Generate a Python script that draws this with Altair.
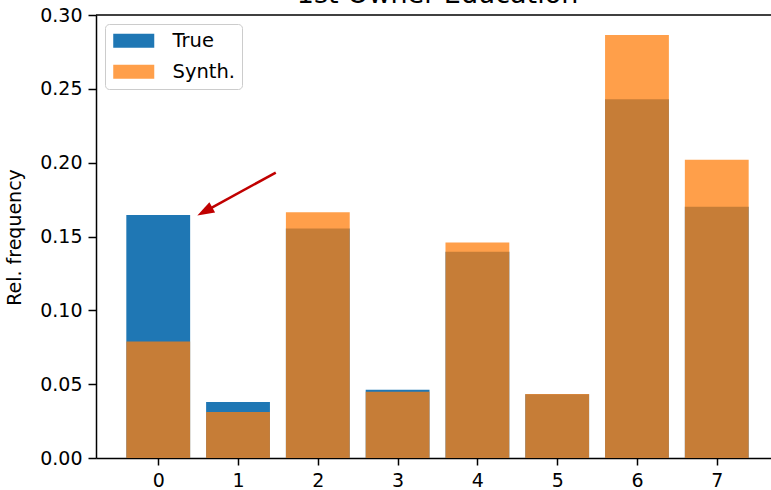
import math

import altair as alt
import pandas as pd

# ---- data -------------------------------------------------------------
categories = [0, 1, 2, 3, 4, 5, 6, 7]
true_freq = [0.1646, 0.0379, 0.1554, 0.0462, 0.1396, 0.0432, 0.2429, 0.1701]
synth_freq = [0.0789, 0.0311, 0.1665, 0.0449, 0.1459, 0.0434, 0.2864, 0.2019]
series_names = ["True", "Synth."]
y_ticks = [0.0, 0.05, 0.10, 0.15, 0.20, 0.25, 0.30]

title_text = "1st Owner Education"
y_title = "Rel. frequency"

# annotation arrow (data coordinates): from tail to tip at the top of bar 0
arrow_tail = (1.473, 0.1933)
arrow_tip = (0.49, 0.1642)

# ---- layout / style ---------------------------------------------------
FONT = "DejaVu Sans"
PAD_LEFT, PAD_TOP, PAD_BOTTOM = 96, 15, 32
VIEW_W, VIEW_H = 771 - PAD_LEFT, 443
X_DOMAIN = [-0.78, 7.78]
X_RANGE = [0, 683]          # axes run past the right edge of the figure
Y_DOMAIN = [0.0, 0.30]
BAR_HALF = 0.4
BLUE, ORANGE, ARROW_RED = "#1f77b4", "#ff7f0e", "#c00000"

rows = [{"cat": c, "series": "True", "freq": v} for c, v in zip(categories, true_freq)]
rows += [{"cat": c, "series": "Synth.", "freq": v} for c, v in zip(categories, synth_freq)]
bars_df = pd.DataFrame(rows)  # True rows first, so Synth. is painted over them

x_scale = alt.Scale(domain=X_DOMAIN, range=X_RANGE, nice=False, zero=False)
y_scale = alt.Scale(domain=Y_DOMAIN, nice=False, zero=False)

axis_common = dict(
    domainColor="black", domainWidth=1.5, tickColor="black", tickWidth=1.5,
    labelFont=FONT, labelFontSize=19, labelColor="black", grid=False,
    labelOverlap=False, labelFlush=False, labelBound=False,
)

legend_symbol = "M-2.93,-1L2.93,-1L2.93,1L-2.93,1Z"

bars = (
    alt.Chart(bars_df)
    .transform_calculate(x0=f"datum.cat - {BAR_HALF}", x1=f"datum.cat + {BAR_HALF}")
    .mark_bar(strokeWidth=0)
    .encode(
        x=alt.X("x0:Q", scale=x_scale,
                axis=alt.Axis(values=categories, format="d", title=None,
                              tickSize=7, labelPadding=6, **axis_common)),
        x2="x1:Q",
        y=alt.Y("freq:Q", scale=y_scale,
                axis=alt.Axis(values=y_ticks, format=".2f", title=y_title,
                              tickSize=8, labelPadding=6,
                              titleFont=FONT, titleFontSize=19, titleFontWeight="normal",
                              titleColor="black", titleAngle=270,
                              titleBaseline="alphabetic", titleAlign="center",
                              titleX=-75.8, titleY=VIEW_H / 2 + 0.5,
                              **axis_common)),
        y2=alt.datum(0),
        color=alt.Color("series:N",
                        scale=alt.Scale(domain=series_names, range=[BLUE, ORANGE]),
                        legend=alt.Legend(
                            title=None, orient="none", legendX=9, legendY=9,
                            fillColor="white", strokeColor="#cccccc",
                            cornerRadius=4, padding=7, rowPadding=10,
                            symbolType=legend_symbol, symbolSize=196,
                            symbolStrokeWidth=0, symbolOffset=12, labelOffset=29,
                            labelFont=FONT, labelFontSize=19.5, labelColor="black",
                        )),
        opacity=alt.Opacity("series:N",
                            scale=alt.Scale(domain=series_names, range=[1.0, 0.75])),
    )
)

# top spine
top_spine = (
    alt.Chart(alt.Data(values=[{}]))
    .mark_rule(color="black", strokeWidth=1.5)
    .encode(x=alt.value(X_RANGE[0]), x2=alt.value(X_RANGE[1]), y=alt.value(0))
)

# title, sitting just above the frame
title = (
    alt.Chart(alt.Data(values=[{"t": title_text}]))
    .mark_text(font=FONT, fontSize=27, color="black", align="center", baseline="alphabetic")
    .encode(text="t:N", x=alt.value((X_RANGE[0] + X_RANGE[1]) / 2), y=alt.value(-11.7))
)

# arrow: shaft + filled head
px_x = (X_RANGE[1] - X_RANGE[0]) / (X_DOMAIN[1] - X_DOMAIN[0])
px_y = VIEW_H / (Y_DOMAIN[1] - Y_DOMAIN[0])
dx_px = (arrow_tip[0] - arrow_tail[0]) * px_x
dy_px = -(arrow_tip[1] - arrow_tail[1]) * px_y
length = math.hypot(dx_px, dy_px)
ux, uy = dx_px / length, dy_px / length
HEAD_LEN = 17.0
head_angle = (math.degrees(math.atan2(uy, ux)) + 90) % 360
base_x = arrow_tip[0] - ux * (HEAD_LEN - 2) / px_x
base_y = arrow_tip[1] + uy * (HEAD_LEN - 2) / px_y

shaft = (
    alt.Chart(alt.Data(values=[
        {"o": 0, "x": arrow_tail[0], "y": arrow_tail[1]},
        {"o": 1, "x": base_x, "y": base_y},
    ]))
    .mark_line(color=ARROW_RED, strokeWidth=2.5)
    .encode(x=alt.X("x:Q", scale=x_scale), y=alt.Y("y:Q", scale=y_scale), order="o:Q")
)

head = (
    alt.Chart(alt.Data(values=[{"x": arrow_tip[0], "y": arrow_tip[1]}]))
    .mark_point(shape="M0,-1L0.7,1L-0.7,1Z", size=HEAD_LEN ** 2, filled=True,
                fill=ARROW_RED, color=ARROW_RED, opacity=1, strokeWidth=0,
                angle=head_angle,
                xOffset=-ux * HEAD_LEN / 2, yOffset=-uy * HEAD_LEN / 2)
    .encode(x=alt.X("x:Q", scale=x_scale), y=alt.Y("y:Q", scale=y_scale))
)

chart = (
    alt.layer(bars, top_spine, shaft, head, title)
    .resolve_scale(x="shared", y="shared")
    .properties(
        width=VIEW_W, height=VIEW_H,
        autosize=alt.AutoSizeParams(type="none"),
        padding={"left": PAD_LEFT, "top": PAD_TOP, "right": 0, "bottom": PAD_BOTTOM},
        background="white",
    )
    .configure_view(strokeWidth=0)
)

chart.save("out.html", embed_options={"renderer": "svg", "actions": False})
